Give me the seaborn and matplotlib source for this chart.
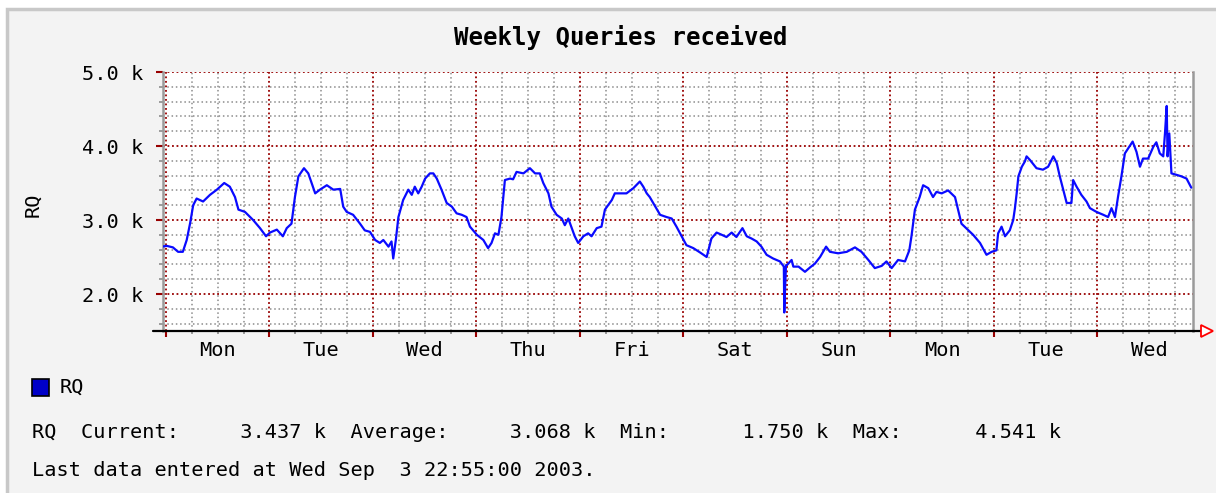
import matplotlib
matplotlib.use("Agg")
import matplotlib.pyplot as plt
import seaborn as sns
import pandas as pd
from matplotlib.patches import Rectangle
from matplotlib.ticker import FixedLocator

# ---- data (hours since Monday 00:00, queries in thousands) ----
hours = [
    -1.0, 0.2, 1.6, 2.8, 3.9, 4.8, 5.6, 6.3, 7.1, 8.6, 10.2, 11.8, 13.5, 14.8, 16.0, 16.8, 18.3, 20.2, 21.8, 23.2,
    24.1, 25.7, 27.1, 28.0, 29.1, 29.9, 30.7, 32.0, 33.0, 34.6, 35.7, 37.3, 38.8, 40.4, 41.1, 41.9, 43.4, 45.0, 46.1, 47.3,
    48.5, 49.6, 50.4, 51.6, 52.3, 52.7, 53.3, 53.9, 55.0, 56.2, 57.0, 57.7, 58.5, 59.3, 60.1, 61.2, 62.0, 62.8, 63.9, 65.1,
    66.3, 67.4, 68.6, 69.7, 70.5, 72.1, 73.6, 74.7, 75.5, 76.3, 77.1, 77.8, 78.6, 79.8, 80.5, 81.3, 82.9, 84.4, 85.6, 86.7,
    87.5, 88.7, 89.4, 90.6, 91.8, 92.5, 93.3, 94.1, 94.8, 95.6, 96.8, 97.9, 98.7, 99.9, 101.0, 101.8, 103.4, 104.1, 105.7, 106.8,
    108.4, 109.9, 110.7, 111.5, 112.2, 113.0, 114.6, 116.1, 117.3, 118.4, 119.6, 120.7, 122.3, 123.9, 125.4, 125.8, 126.5, 127.7, 128.9, 130.0,
    131.2, 132.3, 133.7, 134.7, 135.8, 137.0, 138.1, 139.3, 140.8, 142.4, 143.3, 143.4, 143.6, 143.8, 144.0, 145.1, 145.5, 146.7, 148.2, 149.4,
    150.5, 151.7, 153.1, 154.0, 155.9, 157.9, 159.8, 161.3, 162.9, 164.4, 166.0, 167.1, 168.3, 169.8, 171.4, 172.4, 172.9, 173.7, 174.8, 175.6,
    176.8, 177.9, 178.7, 179.9, 181.4, 183.0, 184.5, 186.1, 187.2, 188.8, 190.3, 191.5, 192.6, 193.0, 193.8, 194.6, 195.7, 196.5, 196.9, 197.3,
    197.7, 198.5, 199.2, 199.6, 200.4, 201.9, 203.4, 204.6, 205.8, 206.6, 207.3, 208.1, 208.9, 210.0, 210.4, 211.2, 212.3, 213.5, 214.3, 215.8,
    217.4, 218.5, 219.3, 220.1, 220.8, 221.6, 222.4, 223.2, 224.2, 225.1, 225.9, 226.6, 227.8, 229.0, 229.7, 230.5, 231.3, 231.7, 232.1, 232.3,
    232.7, 233.2, 234.4, 235.5, 236.7, 237.8,
]
queries_k = [
    2.64, 2.65, 2.63, 2.57, 2.57, 2.73, 2.96, 3.20, 3.29, 3.25, 3.34, 3.41, 3.50, 3.45, 3.31, 3.14, 3.11, 3.00, 2.89, 2.78,
    2.83, 2.87, 2.78, 2.89, 2.95, 3.31, 3.59, 3.70, 3.63, 3.36, 3.41, 3.47, 3.41, 3.42, 3.18, 3.11, 3.07, 2.95, 2.86, 2.84,
    2.73, 2.69, 2.73, 2.64, 2.71, 2.48, 2.73, 3.04, 3.27, 3.41, 3.34, 3.45, 3.36, 3.45, 3.56, 3.63, 3.63, 3.56, 3.41, 3.23,
    3.18, 3.09, 3.07, 3.04, 2.91, 2.80, 2.73, 2.62, 2.69, 2.82, 2.80, 3.04, 3.54, 3.56, 3.55, 3.65, 3.63, 3.70, 3.63, 3.63,
    3.50, 3.36, 3.18, 3.07, 3.02, 2.93, 3.02, 2.89, 2.78, 2.69, 2.78, 2.82, 2.78, 2.89, 2.91, 3.14, 3.27, 3.36, 3.36, 3.36,
    3.43, 3.52, 3.45, 3.36, 3.31, 3.23, 3.07, 3.04, 3.02, 2.91, 2.78, 2.66, 2.62, 2.56, 2.50, 2.59, 2.75, 2.83, 2.80, 2.77,
    2.83, 2.77, 2.89, 2.78, 2.75, 2.71, 2.64, 2.53, 2.48, 2.44, 2.37, 1.75, 2.10, 2.39, 2.39, 2.46, 2.37, 2.37, 2.30, 2.36,
    2.41, 2.50, 2.64, 2.57, 2.55, 2.57, 2.63, 2.57, 2.46, 2.35, 2.38, 2.44, 2.35, 2.46, 2.44, 2.59, 2.78, 3.14, 3.31, 3.47,
    3.43, 3.31, 3.38, 3.36, 3.40, 3.31, 2.95, 2.86, 2.80, 2.69, 2.53, 2.57, 2.59, 2.82, 2.91, 2.78, 2.86, 3.00, 3.16, 3.36,
    3.59, 3.72, 3.79, 3.86, 3.81, 3.70, 3.68, 3.72, 3.86, 3.77, 3.59, 3.41, 3.23, 3.23, 3.54, 3.45, 3.34, 3.25, 3.16, 3.11,
    3.07, 3.04, 3.16, 3.04, 3.31, 3.59, 3.90, 3.97, 4.06, 3.92, 3.72, 3.83, 3.83, 3.99, 4.05, 3.90, 3.86, 4.17, 4.541, 3.86,
    4.17, 3.63, 3.61, 3.59, 3.56, 3.437,
]
day_labels = ["Mon", "Tue", "Wed", "Thu", "Fri", "Sat", "Sun", "Mon", "Tue", "Wed"]
y_major = [2.0, 3.0, 4.0, 5.0]
y_major_labels = ["2.0 k", "3.0 k", "4.0 k", "5.0 k"]
title = "Weekly Queries received"
series_name = "RQ"
stats_line = "RQ  Current:     3.437 k  Average:     3.068 k  Min:      1.750 k  Max:      4.541 k"
last_line = "Last data entered at Wed Sep  3 22:55:00 2003."

# ---- styling ----
sns.set_theme(style="white")
plt.rcParams["font.family"] = ["DejaVu Sans Mono"]

W, H = 1216, 493
fig = plt.figure(figsize=(W / 100, H / 100), dpi=100, facecolor="white")

# canvas background with left/top shade border
bg = Rectangle((7 / W, -0.05), 1.1, (1 - 9.5 / H) + 0.05,
               transform=fig.transFigure, facecolor="#f3f3f3",
               edgecolor="#c8c8c8", linewidth=2.5, zorder=-10)
fig.patches.append(bg)

L, R, T, B = 163, 1193, 72, 331
ax = fig.add_axes([L / W, 1 - B / H, (R - L) / W, (B - T) / H])
ax.set_zorder(1)
ax.set_facecolor("white")

df = pd.DataFrame({"hours": hours, "RQ": queries_k})
sns.lineplot(data=df, x="hours", y="RQ", ax=ax, color="#0a0aff", linewidth=1.6,
             estimator=None, sort=False, zorder=5)

ax.set_xlim(-0.7, 238.2)
ax.set_ylim(1.5, 5.0)

# x ticks: day boundaries (major), 6-hour marks (minor) with day labels at noon
n_days = len(day_labels)
day_bounds = [24 * i for i in range(n_days)]
six_h = [6 * i for i in range(4 * n_days) if 6 * i < 238.2 and (6 * i) % 24 != 0]
ax.set_xticks(day_bounds, labels=[""] * len(day_bounds))
six_labels = [day_labels[int(h // 24)] if h % 24 == 12 else "" for h in six_h]
ax.set_xticks(six_h, labels=six_labels, minor=True)

ax.set_yticks(y_major, labels=y_major_labels)
y_minor = [round(1.6 + 0.2 * i, 1) for i in range(18)]
y_minor = [v for v in y_minor if v not in y_major and v < 5.0]
ax.yaxis.set_minor_locator(FixedLocator(y_minor))

red = "#980000"
gray = "#8c8c8c"
ax.grid(which="major", color=red, linestyle=(0, (1, 1.5)), linewidth=1.3)
ax.grid(which="minor", color=gray, linestyle=(0, (1, 1.8)), linewidth=1.1)
ax.set_axisbelow(True)

ax.tick_params(axis="x", which="major", direction="out", length=4, width=1.5, color=red, pad=6)
ax.tick_params(axis="x", which="minor", direction="out", length=2, width=1.2, color=gray, pad=5,
               labelsize=14.6, labelcolor="black")
ax.tick_params(axis="y", which="major", direction="out", length=5, width=1.5, color=red, pad=9,
               labelsize=14.6, labelcolor="black")
ax.tick_params(axis="y", which="minor", direction="out", length=3, width=1.2, color=gray)
ax.tick_params(bottom=True, left=True, which="both")

ax.spines["top"].set_visible(False)
ax.spines["left"].set_color("#9a9a9a")
ax.spines["left"].set_linewidth(1.8)
ax.spines["right"].set_color("#9a9a9a")
ax.spines["right"].set_linewidth(1.8)
ax.spines["bottom"].set_visible(False)

ax.set_xlabel("")
ax.set_ylabel("")

# bottom axis line with arrow (rrdtool style)
ax.plot([-10 / (R - L), 1 + 8 / (R - L)], [0, 0], transform=ax.transAxes, color="black",
        linewidth=1.6, clip_on=False, zorder=6)
ax.plot([1 + 14 / (R - L)], [0], transform=ax.transAxes, marker=">", markersize=8,
        markerfacecolor="white", markeredgecolor="#ff0000", markeredgewidth=1.3,
        clip_on=False, zorder=7)

# texts
fig.text(621 / W, 1 - 38 / H, title, ha="center", va="center", fontsize=17.3,
         fontweight="bold", color="black")
fig.text(33 / W, 1 - 205 / H, series_name, ha="center", va="center", rotation=90,
         fontsize=14.6, color="black")

# legend swatch
fig.patches.append(Rectangle((32 / W, 1 - 396 / H), 17 / W, 17 / H, transform=fig.transFigure,
                             facecolor="#0000c8", edgecolor="black", linewidth=1.2, zorder=3))
fig.text(60 / W, 1 - 387 / H, series_name, ha="left", va="center", fontsize=14.6, color="black")
fig.text(32 / W, 1 - 432 / H, stats_line, ha="left", va="center", fontsize=14.6, color="black")
fig.text(32 / W, 1 - 470 / H, last_line, ha="left", va="center", fontsize=14.6, color="black")

fig.savefig("out.png", dpi=100, facecolor="white")
